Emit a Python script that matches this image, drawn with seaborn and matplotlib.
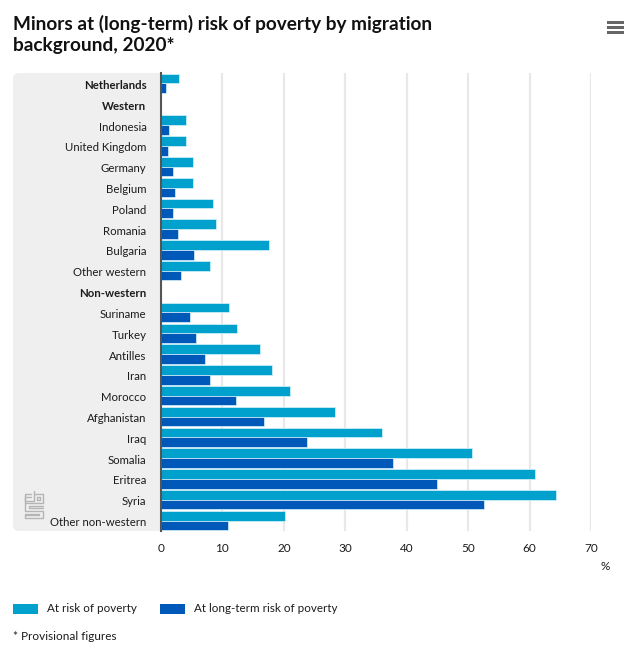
import numpy as np
import pandas as pd
import matplotlib
matplotlib.use("Agg")
import matplotlib.pyplot as plt
from matplotlib.patches import FancyBboxPatch, Rectangle
from matplotlib.lines import Line2D
from matplotlib.transforms import ScaledTranslation
import seaborn as sns

# data
categories = ["Netherlands", "Western", "Indonesia", "United Kingdom", "Germany", "Belgium",
              "Poland", "Romania", "Bulgaria", "Other western", "Non-western", "Suriname",
              "Turkey", "Antilles", "Iran", "Morocco", "Afghanistan", "Iraq", "Somalia",
              "Eritrea", "Syria", "Other non-western"]
at_risk = [3.0, np.nan, 4.1, 4.1, 5.2, 5.2, 8.5, 8.9, 17.6, 8.0, np.nan, 11.1,
           12.4, 16.1, 18.0, 21.0, 28.4, 36.0, 50.6, 60.9, 64.3, 20.2]
long_term = [0.8, np.nan, 1.3, 1.2, 1.9, 2.2, 1.9, 2.8, 5.4, 3.2, np.nan, 4.8,
             5.7, 7.2, 8.0, 12.2, 16.8, 23.8, 37.8, 44.9, 52.6, 10.9]
bold_labels = ["Netherlands", "Western", "Non-western"]
series_names = ["At risk of poverty", "At long-term risk of poverty"]
x_ticks = [0, 10, 20, 30, 40, 50, 60, 70]

LIGHT = "#00A1CD"
DARK = "#0058B8"
TXT = "#1c1c1c"
W, H = 638, 662

sns.set_theme(style="white")
plt.rcParams["font.family"] = ["Lato", "DejaVu Sans"]

df = pd.DataFrame({"origin": categories, series_names[0]: at_risk, series_names[1]: long_term})
df = df.melt(id_vars="origin", var_name="series", value_name="pct")

fig = plt.figure(figsize=(W / 100, H / 100), dpi=100, facecolor="white")

# grey panel behind the labels, pixel coords
bg = fig.add_axes([0, 0, 1, 1], zorder=0)
bg.set_xlim(0, W)
bg.set_ylim(H, 0)
bg.axis("off")
bg.add_patch(FancyBboxPatch((13, 73), 148, 458, boxstyle="round,pad=0,rounding_size=6",
                            fc="#efefef", ec="none", zorder=1))
bg.add_patch(Rectangle((150, 73), 11, 458, fc="#efefef", ec="none", zorder=1))

ax = fig.add_axes([161 / W, 1 - 531 / H, (591 - 161) / W, (531 - 73) / H], zorder=1)
ax.patch.set_alpha(0)
sns.barplot(data=df, y="origin", x="pct", hue="series", order=categories,
            hue_order=series_names, palette=[LIGHT, DARK], width=0.93, saturation=1,
            edgecolor="#d8f3fb", linewidth=0.5, legend=False, ax=ax, zorder=3)

ax.set_xlim(0, 70)
ax.set_ylim(len(categories) - 0.5, -0.5)
ax.set_xlabel("")
ax.set_ylabel("")
ax.set_xticks(x_ticks)
ax.grid(axis="x", color="#e8e8e8", lw=1.6, zorder=0)
ax.set_axisbelow(True)
sns.despine(ax=ax, top=True, right=True, bottom=True, left=False)
ax.spines["left"].set_color("#555555")
ax.spines["left"].set_linewidth(1.5)
ax.spines["left"].set_zorder(5)
ax.tick_params(axis="x", length=0, pad=8.5, labelsize=8.5, labelcolor=TXT)
ax.tick_params(axis="y", length=0, pad=10.5, labelsize=8.2, labelcolor=TXT)
shift = ScaledTranslation(0, -1 / 100, fig.dpi_scale_trans)
for lab in ax.get_yticklabels():
    lab.set_transform(lab.get_transform() + shift)
    if lab.get_text() in bold_labels:
        lab.set_fontweight("bold")

# title, legend, notes
bg.text(13, 24, "Minors at (long-term) risk of poverty by migration", fontsize=13.7, fontweight="bold",
        color="#111111", va="center")
bg.text(13, 45, "background, 2020*", fontsize=13.7, fontweight="bold", color="#111111", va="center")
bg.text(605, 566, "%", fontsize=8.5, color=TXT, ha="center", va="center")

bg.add_patch(Rectangle((13, 604), 25, 10, fc=LIGHT, ec="none"))
bg.text(47, 608, series_names[0], fontsize=8.4, color=TXT, va="center")
bg.add_patch(Rectangle((160, 604), 25, 10, fc=DARK, ec="none"))
bg.text(194, 608, series_names[1], fontsize=8.4, color=TXT, va="center")
bg.text(13, 637, "* Provisional figures", fontsize=8.5, color=TXT, va="center")

# menu icon
for y in [22.5, 27.5, 32.5]:
    bg.add_patch(Rectangle((606.5, y - 1.5), 17, 3, fc="#666666", ec="none"))

# cbs logo, line sketch
logo = [[(34, 490.5), (34, 501), (25, 501), (25, 494), (31, 494)],
        [(34, 494), (43, 494), (43, 503), (25, 503), (25, 510.5), (43, 510.5), (43, 518), (25, 518)],
        [(37, 497), (40, 497), (40, 499.5), (37, 499.5), (37, 497)],
        [(43, 506), (29, 506), (29, 507.5), (43, 507.5)],
        [(25, 513.5), (39, 513.5), (39, 515), (25, 515), (25, 518)],
        [(25, 503), (25, 497), (31, 497)]]
for pts in logo:
    xs, ys = zip(*pts)
    bg.add_line(Line2D(xs, ys, color="#b5b5b5", lw=1.0, zorder=2))

fig.savefig("out.png", dpi=100)
